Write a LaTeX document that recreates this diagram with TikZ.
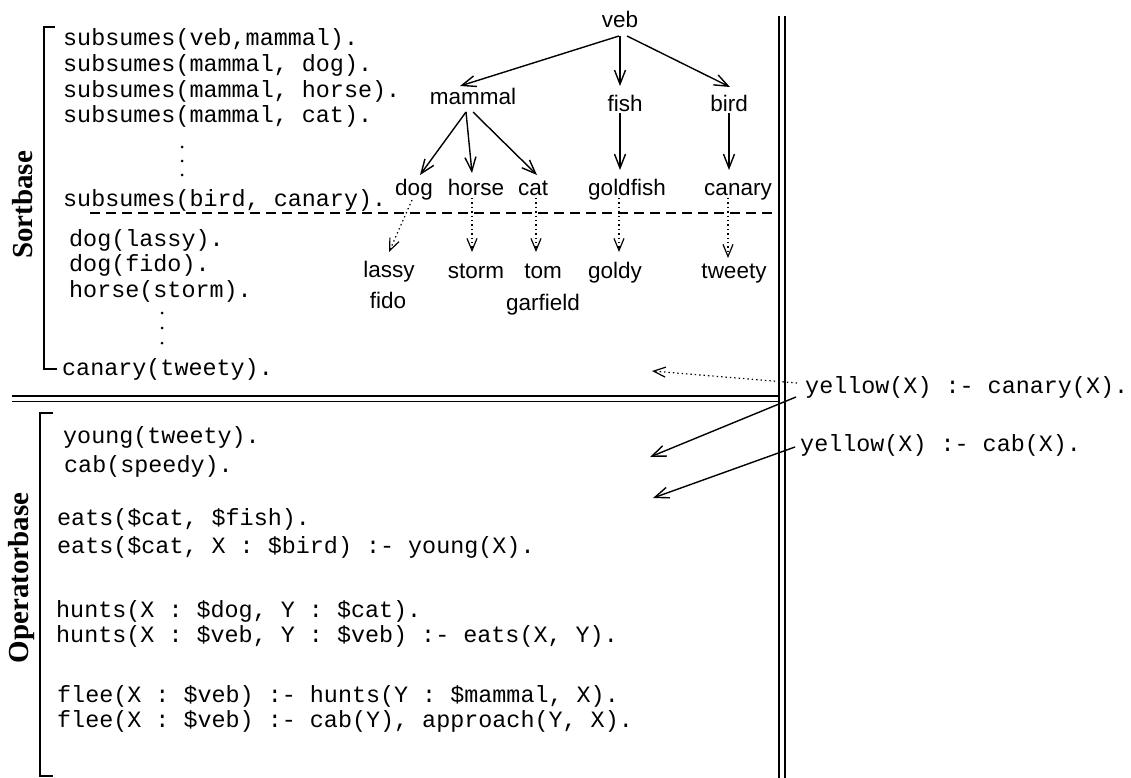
\documentclass[tikz,border=0pt]{standalone}
\usepackage{fontspec}
\setmainfont{Liberation Sans}
\setmonofont{Liberation Mono}
\newfontfamily\serlabel{Liberation Serif}
\usetikzlibrary{arrows.meta}
\begin{document}
\begin{tikzpicture}[x=1pt,y=-1pt,
  code/.style={font=\ttfamily\fontsize{23.4}{27}\selectfont, anchor=base west, inner sep=0pt},
  tree/.style={font=\fontsize{22.5}{27}\selectfont, anchor=base, inner sep=0pt},
  side/.style={font=\serlabel\bfseries\fontsize{29}{33}\selectfont, rotate=90, anchor=base, inner sep=0pt},
  arr/.style={-{Straight Barb[length=14pt,width=11pt]}, line width=1.4pt},
  darr/.style={-{Straight Barb[length=12pt,width=10pt]}, line width=1.2pt, dash pattern=on 1.4pt off 3pt},
  frame/.style={line width=1.6pt},
  brack/.style={line width=1.2pt},
  vdot/.style={fill=black}
]
\useasboundingbox (0,0) rectangle (1131,778);

% frame lines
\draw[frame] (779,16) -- (779,778);
\draw[frame] (785,16) -- (785,778);
\draw[frame] (12,396) -- (779,396);
\draw[line width=1.2pt] (12,401.5) -- (779,401.5);

% side labels and brackets
\node[side] (sortlbl) at (32,205) {Sortbase};
\node[side] (oplbl) at (28.5,578) {Operatorbase};
\draw[brack] (55,27) -- (44,27) -- (44,369) -- (57,369);
\draw[brack] (53,413) -- (40,413) -- (40,776) -- (53,776);

% sortbase code
\node[code] (s1) at (63,46) {subsumes(veb,mammal).};
\node[code] (s2) at (63,72) {subsumes(mammal, dog).};
\node[code] (s3) at (63,98) {subsumes(mammal, horse).};
\node[code] (s4) at (63,123) {subsumes(mammal, cat).};
\fill[vdot] (182,147) circle (1.5) (182,161) circle (1.5) (182,175) circle (1.5);
\node[code] (s5) at (63,206) {subsumes(bird, canary).};
\draw[line width=1.2pt, dash pattern=on 10pt off 6pt] (90,213) -- (775,213);
\node[code] (s6) at (69,246) {dog(lassy).};
\node[code] (s7) at (69,271) {dog(fido).};
\node[code] (s8) at (69,297) {horse(storm).};
\fill[vdot] (162,313) circle (1.5) (162,328) circle (1.5) (162,343) circle (1.5);
\node[code] (s9) at (62,375) {canary(tweety).};

% tree nodes
\node[tree] (veb) at (620,28) {veb};
\node[tree] (mammal) at (473,105) {mammal};
\node[tree] (fish) at (625,112) {fish};
\node[tree] (bird) at (729,112) {bird};
\node[tree] (dog) at (414,195) {dog};
\node[tree] (horse) at (476,195) {horse};
\node[tree] (cat) at (533,195) {cat};
\node[tree] (goldfish) at (627,195) {goldfish};
\node[tree] (canary) at (738,195) {canary};
\node[tree] (lassy) at (389,277) {lassy};
\node[tree] (fido) at (388,308) {fido};
\node[tree] (storm) at (476,278) {storm};
\node[tree] (tom) at (543,278) {tom};
\node[tree] (garfield) at (543,310) {garfield};
\node[tree] (goldy) at (615,278) {goldy};
\node[tree] (tweety) at (734,278) {tweety};

% tree arrows
\draw[arr] ([xshift=-1pt,yshift=-8pt]veb.base) -- ([xshift=-13pt,yshift=19pt]mammal.base);
\draw[arr] ([yshift=-8pt]veb.base) -- ([xshift=-5pt,yshift=26pt]fish.base);
\draw[arr] ([xshift=7pt,yshift=-8pt]veb.base) -- ([xshift=1pt,yshift=25pt]bird.base);
\draw[arr] ([xshift=-7pt,yshift=-7pt]mammal.base) -- ([xshift=6pt,yshift=20pt]dog.base);
\draw[arr] ([xshift=-7pt,yshift=-7pt]mammal.base) -- ([xshift=-4pt,yshift=22pt]horse.base);
\draw[arr] ([yshift=-7pt]mammal.base) -- ([xshift=4pt,yshift=20pt]cat.base);
\draw[arr] ([xshift=-5pt,yshift=-1pt]fish.base) -- ([xshift=-7pt,yshift=25pt]goldfish.base);
\draw[arr] ([yshift=-1pt]bird.base) -- ([xshift=-9pt,yshift=25pt]canary.base);

\draw[darr] ([xshift=-2pt,yshift=-5pt]dog.base) -- ([yshift=25pt]lassy.base);
\draw[darr] ([xshift=-4pt,yshift=-3pt]horse.base) -- ([xshift=-4pt,yshift=26pt]storm.base);
\draw[darr] ([xshift=3pt,yshift=-3pt]cat.base) -- ([xshift=-7pt,yshift=26pt]tom.base);
\draw[darr] ([xshift=-8pt,yshift=-3pt]goldfish.base) -- ([xshift=4pt,yshift=26pt]goldy.base);
\draw[darr] ([xshift=-10pt,yshift=-3pt]canary.base) -- ([xshift=-6pt,yshift=20pt]tweety.base);

% operatorbase code
\node[code] (o1) at (63,443) {young(tweety).};
\node[code] (o2) at (64,472) {cab(speedy).};
\node[code] (o3) at (57,525) {eats(\$cat, \$fish).};
\node[code] (o4) at (57,553) {eats(\$cat, X : \$bird) :- young(X).};
\node[code] (o5) at (56,617) {hunts(X : \$dog, Y : \$cat).};
\node[code] (o6) at (56,642) {hunts(X : \$veb, Y : \$veb) :- eats(X, Y).};
\node[code] (o7) at (57,702) {flee(X : \$veb) :- hunts(Y : \$mammal, X).};
\node[code] (o8) at (57,727) {flee(X : \$veb) :- cab(Y), approach(Y, X).};

% right-hand rules
\node[code] (y1) at (805,393) {yellow(X) :- canary(X).};
\node[code] (y2) at (800,451) {yellow(X) :- cab(X).};
\coordinate (t1) at (652,371);
\coordinate (t2) at (650,457);
\coordinate (t3) at (653,498);
\draw[darr] ([xshift=-8pt,yshift=10pt]y1.base west) -- (t1);
\draw[arr] ([xshift=-9pt,yshift=-4pt]y1.base west) -- (t2);
\draw[arr] ([xshift=-5pt,yshift=4pt]y2.base west) -- (t3);
\end{tikzpicture}
\end{document}
